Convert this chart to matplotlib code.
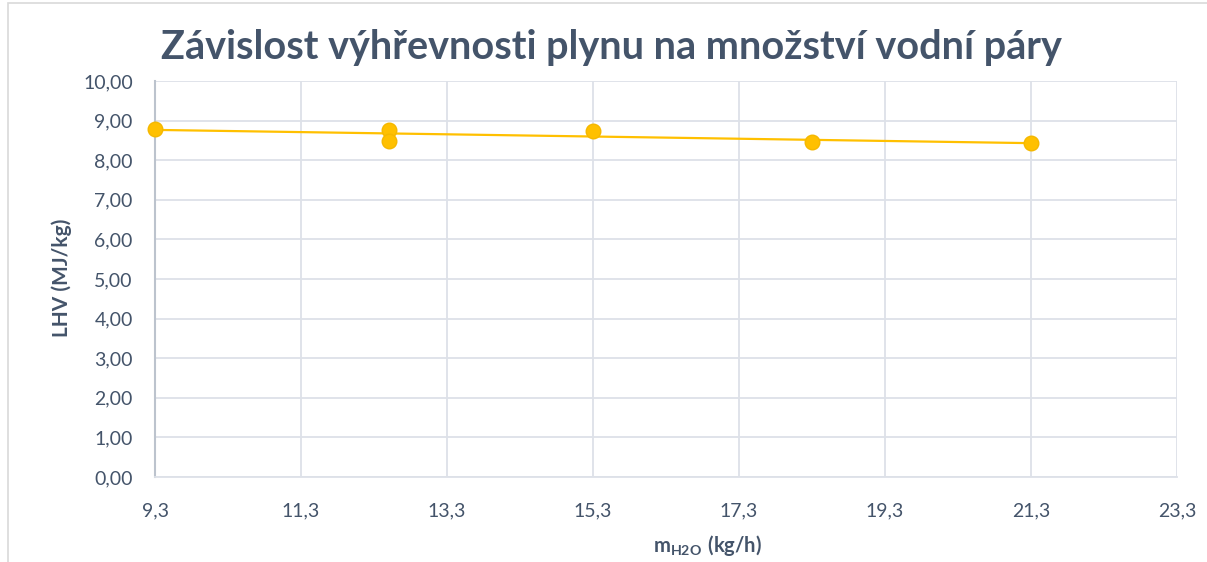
import matplotlib
matplotlib.use("Agg")
import matplotlib.pyplot as plt
import numpy as np
from matplotlib.ticker import FuncFormatter, MultipleLocator, FixedLocator
from matplotlib.patches import Rectangle

# Data
m_h2o = [9.3, 12.5, 12.5, 15.3, 18.3, 21.3]
lhv = [8.79, 8.76, 8.48, 8.74, 8.46, 8.43]
x_ticks = [9.3, 11.3, 13.3, 15.3, 17.3, 19.3, 21.3, 23.3]
title = "Závislost výhřevnosti plynu na množství vodní páry"
xlabel = r"$\mathbf{m_{H2O}\ (kg/h)}$"
ylabel = "LHV (MJ/kg)"

plt.rcParams['font.family'] = ['Lato', 'DejaVu Sans']
plt.rcParams['mathtext.fontset'] = 'custom'
plt.rcParams['mathtext.rm'] = 'Lato'
plt.rcParams['mathtext.bf'] = 'Lato:bold'

txt = '#44546a'
fig = plt.figure(figsize=(12.07, 5.62), dpi=100)
fig.patches.append(Rectangle((8/1207, -0.1), 1.2, (562-3)/562 + 0.1, transform=fig.transFigure,
                             fill=False, edgecolor='#d9d9d9', linewidth=1.2))
ax = fig.add_axes([155/1207, 1-477/562, (1177-155)/1207, (477-81)/562])

# trendline
coef = np.polyfit(m_h2o, lhv, 1)
xs = np.array([min(m_h2o), max(m_h2o)])
ax.plot(xs, np.polyval(coef, xs), color='#ffc000', lw=1.6, zorder=3)
ax.plot(m_h2o, lhv, 'o', color='#ffc000', markeredgecolor='#f5b800', markersize=10.5, zorder=4, clip_on=False)

ax.set_xlim(x_ticks[0], x_ticks[-1])
ax.set_ylim(0, 10)
ax.xaxis.set_major_locator(FixedLocator(x_ticks))
ax.yaxis.set_major_locator(MultipleLocator(1))
ax.xaxis.set_major_formatter(FuncFormatter(lambda v, p: f"{v:.1f}".replace('.', ',')))
ax.yaxis.set_major_formatter(FuncFormatter(lambda v, p: f"{v:.2f}".replace('.', ',')))
ax.grid(True, color='#dde1e8', lw=1.3)
ax.set_axisbelow(True)
for s in ['top', 'right']:
    ax.spines[s].set_visible(False)
ax.spines['left'].set_color('#bcc3cd')
ax.spines['left'].set_linewidth(1.5)
ax.spines['bottom'].set_color('#dde1e8')
ax.spines['bottom'].set_linewidth(1.3)
ax.tick_params(length=0, labelsize=14, labelcolor=txt)
ax.tick_params(axis='y', pad=16)
ax.tick_params(axis='x', pad=18)

fig.text(611/1207, 1-47/562, title, ha='center', va='center', fontsize=28.5, fontweight='bold', color=txt)
fig.text(62/1207, 1-278/562, ylabel, ha='center', va='center', rotation=90, fontsize=15, fontweight='bold', color=txt)
fig.text(707/1207, 1-546/562, xlabel, ha='center', va='center', fontsize=14.5, color=txt)

fig.savefig('out.png', dpi=100)
